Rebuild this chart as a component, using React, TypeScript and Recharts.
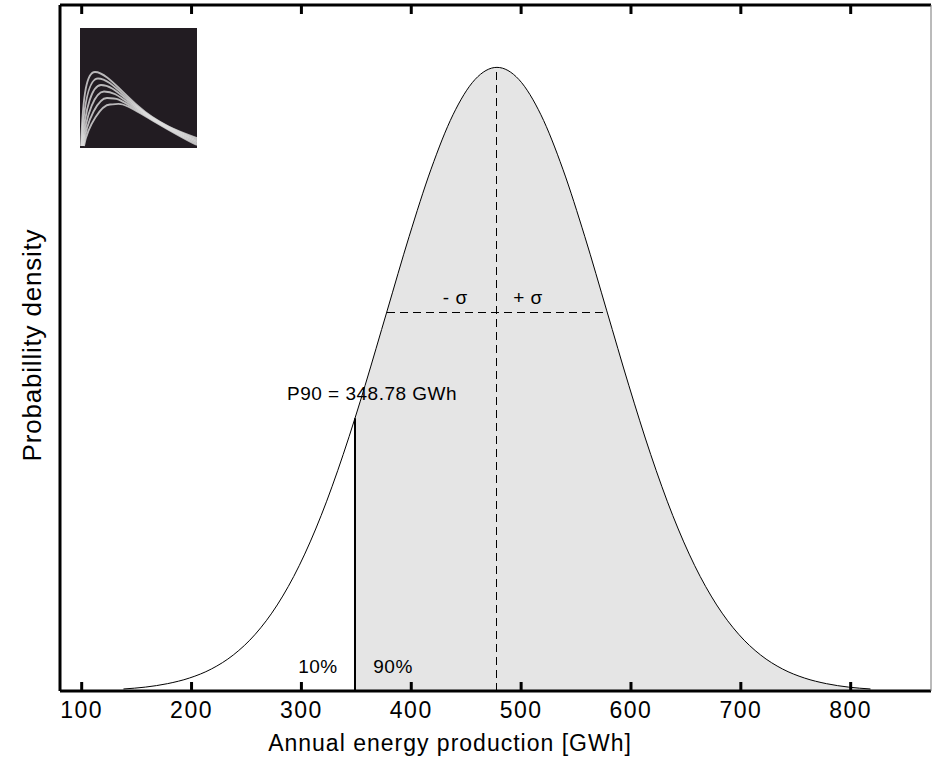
import React from "react";
import {
  Area,
  ComposedChart,
  Label,
  Line,
  ReferenceDot,
  ReferenceLine,
  XAxis,
  YAxis,
} from "recharts";

// values
const energy = [
  138, 158, 178, 198, 218, 238, 258, 278, 298, 318, 338, 348.78, 358, 378, 398, 418, 438, 458, 478,
  498, 518, 538, 558, 578, 598, 618, 638, 658, 678, 698, 718, 738, 758, 778, 798, 818,
];
const density = [
  0.013, 0.025, 0.047, 0.083, 0.141, 0.231, 0.364, 0.552, 0.804, 1.126, 1.516, 1.75, 1.961, 2.438,
  2.914, 3.347, 3.696, 3.922, 4.0, 3.922, 3.696, 3.347, 2.914, 2.438, 1.961, 1.516, 1.126, 0.804,
  0.552, 0.364, 0.231, 0.141, 0.083, 0.047, 0.025, 0.013,
];
const xTicks = [100, 200, 300, 400, 500, 600, 700, 800];

const p90 = 348.78;
const p90Density = 1.75;
const mean = 478;
const peakDensity = 4.0;
const sigmaLow = 377.5;
const sigmaHigh = 578.5;
const sigmaDensity = 2.43;

const font = "'Liberation Sans', Arial, sans-serif";

const data = energy.map((x, i) => ({
  x,
  density: density[i],
  tail: x >= p90 ? density[i] : null,
}));

const BottomTick = (props: any) => {
  const { x, y, payload } = props;
  return (
    <g>
      <line x1={x} y1={y} x2={x} y2={y - 9} stroke="#000" strokeWidth={3} />
      <text x={x} y={y + 27} textAnchor="middle" fontSize={23} letterSpacing={1.5} fontFamily={font} fill="#000">
        {payload.value}
      </text>
    </g>
  );
};

const TopTick = (props: any) => {
  const { x, y } = props;
  return <line x1={x} y1={y} x2={x} y2={y + 9} stroke="#000" strokeWidth={3} />;
};

const Logo = () => (
  <svg
    width={117}
    height={120}
    style={{ position: "absolute", left: 80, top: 28 }}
    viewBox="0 0 117 120"
  >
    <defs>
      <filter id="soft">
        <feGaussianBlur stdDeviation="0.6" />
      </filter>
    </defs>
    <rect x={0} y={0} width={117} height={120} fill="#231f20" filter="url(#soft)" />
    {[0, 1, 2, 3, 4, 5].map((i) => {
      const px = 15 + i * 3;
      const py = 44 + i * 6.5;
      return (
        <path
          key={i}
          d={`M ${1 + i * 0.6},118 C ${3 + i},${py + 20} ${px - 8},${py} ${px},${py} C ${px + 10},${py} ${38},${py + 16 - i * 4} ${58},${78 + i * 1.2} S ${100},${104 + i} ${117},${110 + i * 1.4}`}
          fill="none"
          stroke="#e0e0e0"
          strokeWidth={1.8}
          opacity={0.8}
          filter="url(#soft)"
        />
      );
    })}
  </svg>
);

const annot = { position: "center" as const, fontSize: 19, letterSpacing: 0.5, fontFamily: font, fill: "#000" };

export default function App() {
  return (
    <div style={{ position: "absolute", left: 0, top: 0, width: 932, height: 761, background: "#fff" }}>
      <ComposedChart
        width={932}
        height={761}
        data={data}
        margin={{ top: 4, right: 0, bottom: 69, left: 59 }}
      >
        <XAxis
          dataKey="x"
          type="number"
          domain={[80.25, 873.1]}
          ticks={xTicks}
          interval={0}
          height={1}
          tickSize={0}
          tickMargin={0}
          tickLine={false}
          tick={<BottomTick />}
          axisLine={{ stroke: "#000", strokeWidth: 3 }}
          allowDataOverflow
        >
          <Label
            content={() => (
              <text x={450} y={751} textAnchor="middle" fontSize={23} letterSpacing={1} fontFamily={font} fill="#000">
                Annual energy production [GWh]
              </text>
            )}
          />
        </XAxis>
        <XAxis
          xAxisId="top"
          orientation="top"
          dataKey="x"
          type="number"
          domain={[80.25, 873.1]}
          ticks={xTicks}
          interval={0}
          height={1}
          tickSize={0}
          tickMargin={0}
          tickLine={false}
          tick={<TopTick />}
          axisLine={{ stroke: "#000", strokeWidth: 3 }}
          allowDataOverflow
        />
        <YAxis
          type="number"
          domain={[0, 4.4]}
          width={1}
          tick={false}
          tickLine={false}
          axisLine={{ stroke: "#000", strokeWidth: 3 }}
          allowDataOverflow
        >
          <Label
            content={() => (
              <text
                x={41}
                y={345}
                transform="rotate(-90 41 345)"
                textAnchor="middle"
                fontSize={26}
                letterSpacing={0.8}
                fontFamily={font}
                fill="#000"
              >
                Probabillity density
              </text>
            )}
          />
        </YAxis>
        <YAxis
          yAxisId="right"
          orientation="right"
          type="number"
          domain={[0, 4.4]}
          width={1}
          tick={false}
          tickLine={false}
          axisLine={{ stroke: "#777", strokeWidth: 1 }}
        />

        <Area
          dataKey="tail"
          type="monotone"
          fill="#e5e5e5"
          fillOpacity={1}
          stroke="none"
          connectNulls={false}
          isAnimationActive={false}
        />
        <Line
          dataKey="density"
          type="monotone"
          stroke="#000"
          strokeWidth={1}
          dot={false}
          isAnimationActive={false}
        />

        <ReferenceLine
          segment={[
            { x: mean, y: 0 },
            { x: mean, y: peakDensity },
          ]}
          stroke="#000"
          strokeWidth={1}
          strokeDasharray="8 5"
          shapeRendering="crispEdges"
        />
        <ReferenceLine
          segment={[
            { x: sigmaLow, y: sigmaDensity },
            { x: sigmaHigh, y: sigmaDensity },
          ]}
          stroke="#000"
          strokeWidth={1}
          strokeDasharray="8 5"
          shapeRendering="crispEdges"
        />
        <ReferenceLine
          segment={[
            { x: p90, y: 0 },
            { x: p90, y: p90Density },
          ]}
          stroke="#000"
          strokeWidth={2}
        />

        <ReferenceDot x={440} y={2.527} r={0} fill="none" stroke="none" label={{ value: "- σ", ...annot }} />
        <ReferenceDot x={506.3} y={2.527} r={0} fill="none" stroke="none" label={{ value: "+ σ", ...annot }} />
        <ReferenceDot x={364.3} y={1.911} r={0} fill="none" stroke="none" label={{ value: "P90 = 348.78 GWh", ...annot }} />
        <ReferenceDot x={315.1} y={0.16} r={0} fill="none" stroke="none" label={{ value: "10%", ...annot }} />
        <ReferenceDot x={383.4} y={0.16} r={0} fill="none" stroke="none" label={{ value: "90%", ...annot }} />
      </ComposedChart>
      <Logo />
    </div>
  );
}
